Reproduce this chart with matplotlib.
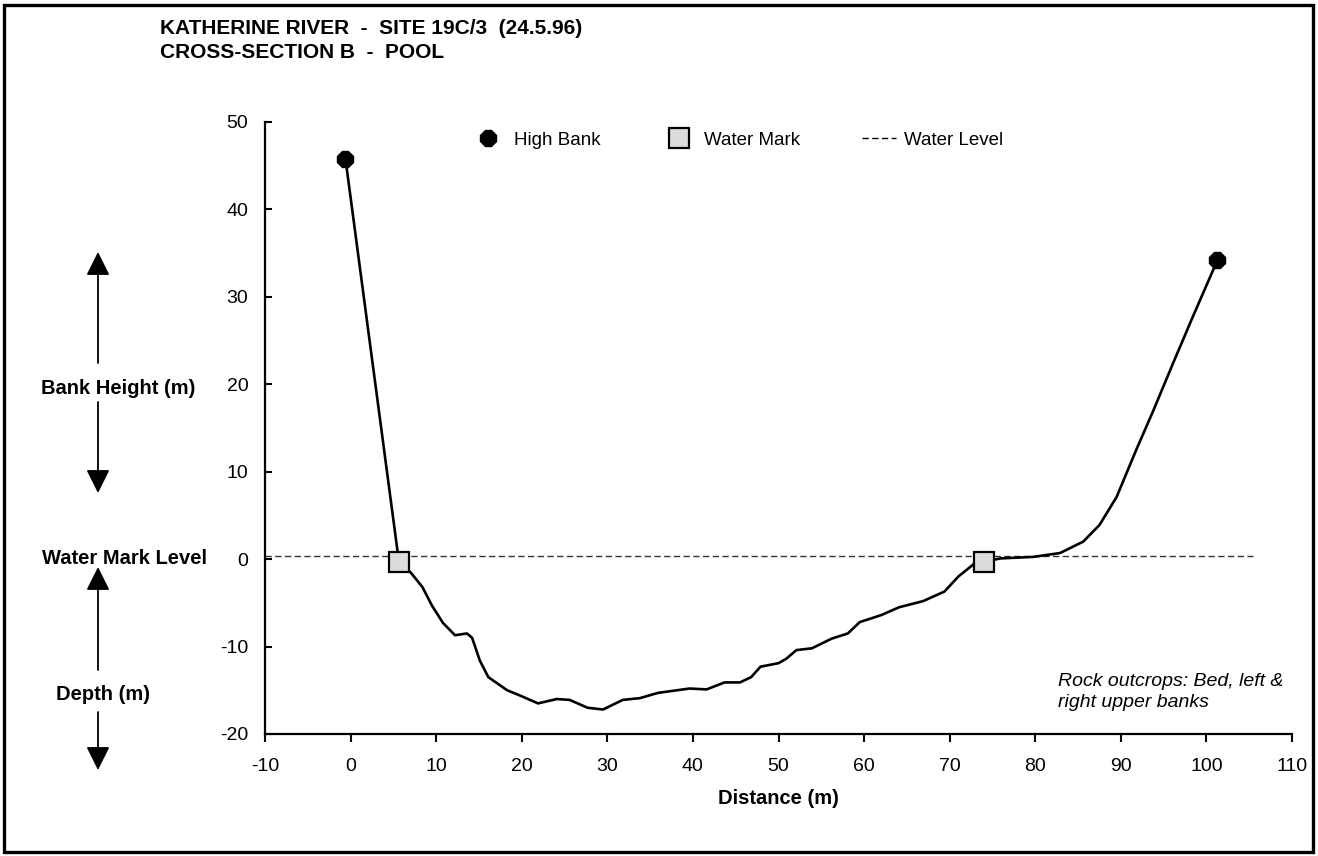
import numpy as np
import matplotlib.pyplot as plt
from matplotlib.lines import Line2D
from matplotlib.patches import Rectangle

plt.rcParams['font.family'] = ['Liberation Sans', 'DejaVu Sans']
plt.rcParams['axes.unicode_minus'] = False

# cross-section profile (distance m, height m)
dist = [-0.6, 5.65, 7.0, 8.4, 9.5, 10.8, 12.2, 13.6, 14.2, 15.1, 16.1, 18.3, 19.8,
        21.9, 24.1, 25.6, 27.7, 29.5, 31.8, 33.8, 35.9, 39.6, 41.6, 43.7, 45.5,
        46.8, 47.9, 50.0, 50.9, 52.1, 53.9, 56.2, 58.1, 59.5, 62.0, 64.1, 66.9,
        69.4, 71.0, 72.9, 74.0, 75.9, 79.8, 82.9, 85.6, 87.5, 89.5, 91.8, 93.8,
        96.1, 98.4, 100.8, 101.2]
height = [45.8, -0.3, -1.5, -3.2, -5.3, -7.3, -8.7, -8.5, -9.0, -11.6, -13.5, -15.0, -15.6,
          -16.5, -16.0, -16.1, -17.0, -17.2, -16.1, -15.9, -15.3, -14.8, -14.9, -14.1, -14.1,
          -13.5, -12.3, -11.9, -11.4, -10.4, -10.2, -9.1, -8.5, -7.2, -6.4, -5.5, -4.8,
          -3.7, -2.0, -0.5, -0.3, 0.08, 0.26, 0.7, 2.0, 3.9, 7.1, 12.5, 17.0,
          22.4, 27.7, 33.1, 34.2]

high_bank_x = [-0.6, 101.2]
high_bank_y = [45.8, 34.2]
water_mark_x = [5.65, 74.0]
water_mark_y = [-0.3, -0.3]
water_level_x = [-10, 105.5]
water_level_y = [0.35, 0.35]

W, H = 1318, 856
fig = plt.figure(figsize=(W / 100, H / 100), dpi=100)
ax = fig.add_axes([265 / W, 1 - 734 / H, (1292 - 265) / W, (734 - 122) / H])

ax.plot(water_level_x, water_level_y, color='#333333', lw=1.0, ls=(0, (4.5, 2.5)))
ax.plot(dist, height, color='black', lw=1.9, zorder=3, solid_joinstyle='round')
ax.plot(high_bank_x, high_bank_y, ls='none', marker='8', ms=12, color='black', zorder=4)
ax.plot(water_mark_x, water_mark_y, ls='none', marker='s', ms=14, mfc='#dcdcdc',
        mec='black', mew=1.6, zorder=5)

ax.set_xlim(-10, 110)
ax.set_ylim(-20, 50)
ax.set_xticks(np.arange(-10, 111, 10))
ax.set_yticks(np.arange(-20, 51, 10))
for s in ['top', 'right']:
    ax.spines[s].set_visible(False)
for s in ['left', 'bottom']:
    ax.spines[s].set_linewidth(1.6)
ax.tick_params(axis='x', direction='out', length=6, width=1.5, pad=11, labelsize=14)
ax.tick_params(axis='y', direction='in', length=5, width=1.5, pad=12, labelsize=14)
ax.set_xlabel('Distance (m)', fontsize=14.5, fontweight='bold', labelpad=10)

handles = [
    Line2D([], [], ls='none', marker='8', ms=12, color='black'),
    Line2D([], [], ls='none', marker='s', ms=14, mfc='#dcdcdc', mec='black', mew=1.6),
    Line2D([], [], color='black', lw=1.0, ls=(0, (4.5, 2.5))),
]
ax.legend(handles, ['High Bank', 'Water Mark', 'Water Level'], ncol=3, frameon=False,
          loc='center', bbox_to_anchor=(0.46, 0.97), fontsize=13.5,
          handlelength=1.8, handletextpad=0.45, columnspacing=3.3)

ax.text(0.772, 0.069, 'Rock outcrops: Bed, left &\nright upper banks', transform=ax.transAxes,
        fontsize=14, style='italic', ha='left', va='center', linespacing=1.3)

fig.text(160 / W, 1 - 28 / H, 'KATHERINE RIVER  -  SITE 19C/3  (24.5.96)', fontsize=15,
         fontweight='bold', ha='left', va='center')
fig.text(160 / W, 1 - 53 / H, 'CROSS-SECTION B  -  POOL', fontsize=15,
         fontweight='bold', ha='left', va='center')

# left side annotations
fig.text(118 / W, 1 - 388 / H, 'Bank Height (m)', fontsize=14.5, fontweight='bold',
         ha='center', va='center')
fig.text(124 / W, 1 - 558 / H, 'Water Mark Level', fontsize=14.5, fontweight='bold',
         ha='center', va='center')
fig.text(103 / W, 1 - 694 / H, 'Depth (m)', fontsize=14.5, fontweight='bold',
         ha='center', va='center')

arrow_x = 98
arrows = [(363, 252), (402, 493), (670, 567), (712, 770)]
for y0, y1 in arrows:
    ax.annotate('', xy=(arrow_x, H - y1), xytext=(arrow_x, H - y0),
                xycoords='figure pixels', textcoords='figure pixels',
                arrowprops=dict(arrowstyle='-|>,head_length=1.0,head_width=0.5',
                                mutation_scale=14.4, color='black', lw=1.3,
                                shrinkA=0, shrinkB=0), annotation_clip=False)

fig.patches.append(Rectangle((4 / W, 4 / H), (1313 - 4) / W, (852 - 5) / H,
                             transform=fig.transFigure, fill=False,
                             edgecolor='black', lw=2.4))

fig.savefig('out.png', dpi=100)
